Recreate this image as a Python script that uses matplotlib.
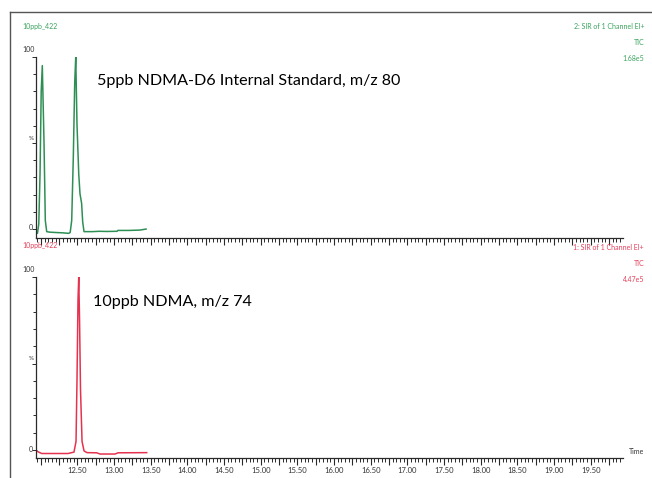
import matplotlib
matplotlib.use("Agg")
import matplotlib.pyplot as plt
from matplotlib.ticker import MultipleLocator, FuncFormatter
from matplotlib.lines import Line2D

# ---------------- data ----------------
green_time = [11.934, 11.954, 11.972, 11.989, 12.005, 12.020, 12.043, 12.061, 12.080,
              12.12, 12.20, 12.30, 12.38, 12.40, 12.421, 12.443, 12.462, 12.476, 12.493,
              12.517, 12.534, 12.556, 12.571, 12.589, 12.70, 12.80, 12.90, 13.04, 13.05,
              13.20, 13.35, 13.435]
green_pct = [-1.5, -2.5, 3, 32, 80, 95, 51, 5, -1.5,
             -1.8, -2.0, -2.2, -2.5, -2.0, 5, 42, 85, 100, 61,
             32, 20.5, 15, 4, -1.5, -1.5, -1.3, -1.4, -1.3, -0.8,
             -0.8, -0.6, 0.0]

red_time = [11.934, 11.961, 12.012, 12.20, 12.371, 12.452, 12.480, 12.493, 12.507, 12.517,
            12.528, 12.541, 12.562, 12.589, 12.630, 12.762, 12.807, 13.012, 13.053, 13.444]
red_pct = [0.0, -1.0, -2.0, -2.0, -2.0, -1.2, 5, 40, 87, 100,
           75, 35, 5, -0.5, -1.5, -1.6, -2.3, -2.3, -1.6, -1.5]

x_ticks_labels = ["12.50", "13.00", "13.50", "14.00", "14.50", "15.00", "15.50",
                  "16.00", "16.50", "17.00", "17.50", "18.00", "18.50", "19.00", "19.50"]

top_title = "5ppb NDMA-D6 Internal Standard, m/z 80"
bot_title = "10ppb NDMA, m/z 74"
sample_name = "10ppb_422"
top_info = ["2: SIR of 1 Channel EI+", "TIC", "1.68e5"]
bot_info = ["1: SIR of 1 Channel EI+", "TIC", "4.47e5"]

# ---------------- style ----------------
W, H = 652, 478
GREEN = "#2e8f55"
GREEN_T = "#3aa35e"
RED = "#e5334f"
RED_T = "#e2405a"
AX = "#2a2a2a"
FONT = ["Lato", "DejaVu Sans"]
plt.rcParams["font.family"] = FONT

fig = plt.figure(figsize=(W / 100, H / 100), dpi=100)
fig.patch.set_facecolor("white")


def px(x, y):
    return x / W, 1 - y / H


def make_axes(top_px, bottom_px, ymin):
    left, right = 36, 623
    ax = fig.add_axes([left / W, 1 - bottom_px / H, (right - left) / W, (bottom_px - top_px) / H])
    ax.set_xlim(11.934, 19.94)
    ax.set_ylim(ymin, 100)
    for s in ("top", "right"):
        ax.spines[s].set_visible(False)
    for s in ("left", "bottom"):
        ax.spines[s].set_color(AX)
        ax.spines[s].set_linewidth(0.9)
    ax.xaxis.set_major_locator(MultipleLocator(0.25))
    ax.xaxis.set_minor_locator(MultipleLocator(0.05))
    ax.yaxis.set_major_locator(MultipleLocator(50))
    ax.yaxis.set_minor_locator(MultipleLocator(10))
    ax.tick_params(axis="x", which="major", length=5, width=0.8, color=AX, direction="out")
    ax.tick_params(axis="x", which="minor", length=3, width=0.7, color=AX, direction="out")
    ax.tick_params(axis="y", which="major", length=3, width=0.7, color=AX, direction="out")
    ax.tick_params(axis="y", which="minor", length=2.5, width=0.7, color=AX, direction="out")
    ax.set_yticklabels([])
    return ax


ax1 = make_axes(57, 238, -5.2)
ax2 = make_axes(277, 458, -4.6)

ax1.plot(green_time, green_pct, color=GREEN, lw=1.1)
ax2.plot(red_time, red_pct, color=RED, lw=1.1)

ax1.set_xticklabels([])


def fmt(v, pos):
    s = "%.2f" % v
    return s if s in x_ticks_labels else ""


ax2.xaxis.set_major_formatter(FuncFormatter(fmt))
ax2.tick_params(axis="x", labelsize=5.5, pad=1.5, labelcolor="#333333")

# y labels
small = 5.0
for (ax_lab100, ax_lab0, ax_pct) in [((29, 50), (31, 228), (31, 139)), ((29, 270), (31, 449), (31, 359))]:
    fig.text(*px(*ax_lab100), "100", fontsize=small, ha="center", va="center", color="#333333")
    fig.text(*px(*ax_lab0), "0", fontsize=small, ha="center", va="center", color="#333333")
    fig.text(*px(*ax_pct), "%", fontsize=small - 0.5, ha="center", va="center", color="#333333")

# header texts
fig.text(*px(22, 26.7), sample_name, fontsize=small, color=GREEN_T, ha="left", va="center")
fig.text(*px(22, 246), sample_name, fontsize=small, color=RED_T, ha="left", va="center")
for txt, y in zip(top_info, [26.7, 42.3, 58.3]):
    fig.text(*px(644, y), txt, fontsize=small, color=GREEN_T, ha="right", va="center")
for txt, y in zip(bot_info, [247.3, 263.3, 279.3]):
    fig.text(*px(644, y), txt, fontsize=small, color=RED_T, ha="right", va="center")
fig.text(*px(629, 451.7), "Time", fontsize=small, color="#333333", ha="left", va="center")

# annotations
fig.text(*px(97, 81), top_title, fontsize=11.6, color="black", ha="left", va="center")
fig.text(*px(93, 301.7), bot_title, fontsize=11.6, color="black", ha="left", va="center")

# frame
fig.add_artist(Line2D([10 / W, 10 / W], [1 - 12 / H, 0], color="#555555", lw=1.0))
fig.add_artist(Line2D([10 / W, 1], [1 - 12 / H, 1 - 12 / H], color="#555555", lw=1.0))

fig.savefig("out.png", dpi=100, facecolor="white")
